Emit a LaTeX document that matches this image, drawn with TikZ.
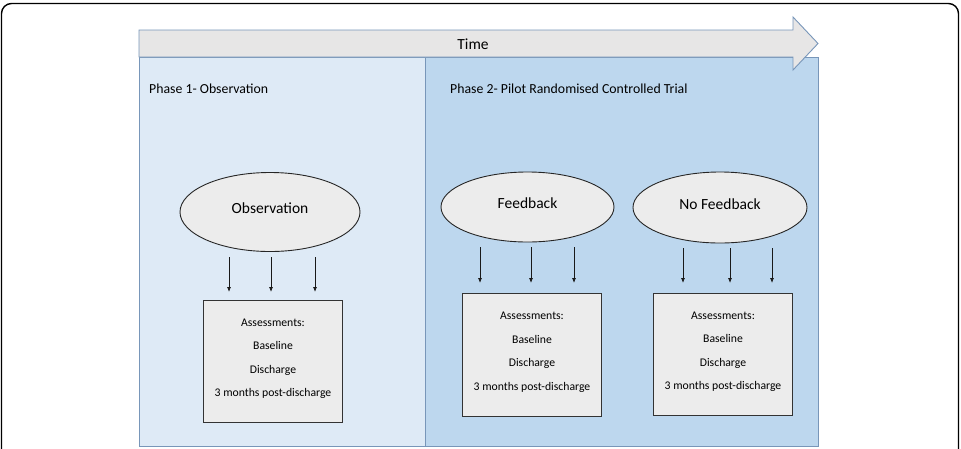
\documentclass[tikz,border=0pt]{standalone}
\usepackage{fontspec}
\setmainfont{Carlito}
\usetikzlibrary{shapes.geometric,arrows.meta}
\definecolor{frameblue}{RGB}{120,150,185}
\definecolor{ponefill}{RGB}{222,234,246}
\definecolor{ptwofill}{RGB}{189,215,238}
\definecolor{timegray}{RGB}{231,230,230}
\definecolor{ellgray}{RGB}{236,236,236}
\definecolor{boxgray}{RGB}{236,236,236}
\begin{document}
\begin{tikzpicture}[x=1pt,y=-1pt,
  panel/.style={draw=frameblue,line width=0.9pt,inner sep=0pt,anchor=north west},
  oval/.style={ellipse,draw=black!85,fill=ellgray,line width=0.9pt,inner sep=0pt,text height=11.5pt,text depth=8pt,font=\fontsize{15.5}{18}\selectfont},
  assess/.style={draw=black!80,fill=boxgray,line width=1pt,inner sep=0pt,align=center,anchor=north west,text depth=8pt,font=\fontsize{11.7}{23.5}\selectfont},
  arr/.style={draw=black!90,line width=0.75pt,-{Latex[length=5pt,width=4pt]}},
  lbl/.style={anchor=west,font=\fontsize{13.8}{16}\selectfont,inner sep=0pt}]
\useasboundingbox (0,0) rectangle (961,448);
% outer frame
\draw[line width=1.4pt,rounded corners=10pt] (1.5,470) -- (1.5,3.5) -- (958.5,3.5) -- (958.5,470);
% panels
\node[panel,fill=ponefill,minimum width=286,minimum height=389] (pone) at (139,57) {};
\node[panel,fill=ptwofill,minimum width=393,minimum height=389] (ptwo) at (425,57) {};
% time arrow
\draw[draw=frameblue,line width=0.9pt,fill=timegray,line join=miter]
  (139,30) -- (793,30) -- (793,17) -- (818,43.5) -- (793,70) -- (793,57) -- (139,57) -- cycle;
\node[font=\fontsize{15.5}{18}\selectfont,inner sep=0pt] (time) at (473,44) {Time};
% phase labels
\node[lbl] (lone) at (149,89) {Phase 1- Observation};
\node[lbl] (ltwo) at (450,89) {Phase 2- Pilot Randomised Controlled Trial};
% ellipses
\node[oval,minimum width=180,minimum height=79] (obs) at (270,212) {Observation};
\node[oval,minimum width=173,minimum height=70] (fb) at (527.5,207) {Feedback};
\node[oval,minimum width=174,minimum height=71] (nfb) at (720,207.5) {No Feedback};
% assessment boxes
\node[assess,minimum width=139,minimum height=122] (obsbox) at (203,300)
  {Assessments:\\Baseline\\Discharge\\3 months post-discharge};
\node[assess,minimum width=139,minimum height=123] (fbbox) at (462,293)
  {Assessments:\\Baseline\\Discharge\\3 months post-discharge};
\node[assess,minimum width=139,minimum height=122] (nfbbox) at (653,293)
  {Assessments:\\Baseline\\Discharge\\3 months post-discharge};
% arrow columns
\coordinate (o1) at (229,0); \coordinate (o2) at (271,0); \coordinate (o3) at (315,0);
\coordinate (f1) at (480,0); \coordinate (f2) at (531,0); \coordinate (f3) at (574,0);
\coordinate (n1) at (683,0); \coordinate (n2) at (730,0); \coordinate (n3) at (772,0);
\foreach \c in {o1,o2,o3}
  \draw[arr,shorten <=5.5pt,shorten >=8pt] (obs.south -| \c) -- (obsbox.north -| \c);
\foreach \c in {f1,f2,f3}
  \draw[arr,shorten <=5pt,shorten >=10pt] (fb.south -| \c) -- (fbbox.north -| \c);
\foreach \c in {n1,n2,n3}
  \draw[arr,shorten <=5pt,shorten >=10pt] (nfb.south -| \c) -- (nfbbox.north -| \c);
\end{tikzpicture}
\end{document}
